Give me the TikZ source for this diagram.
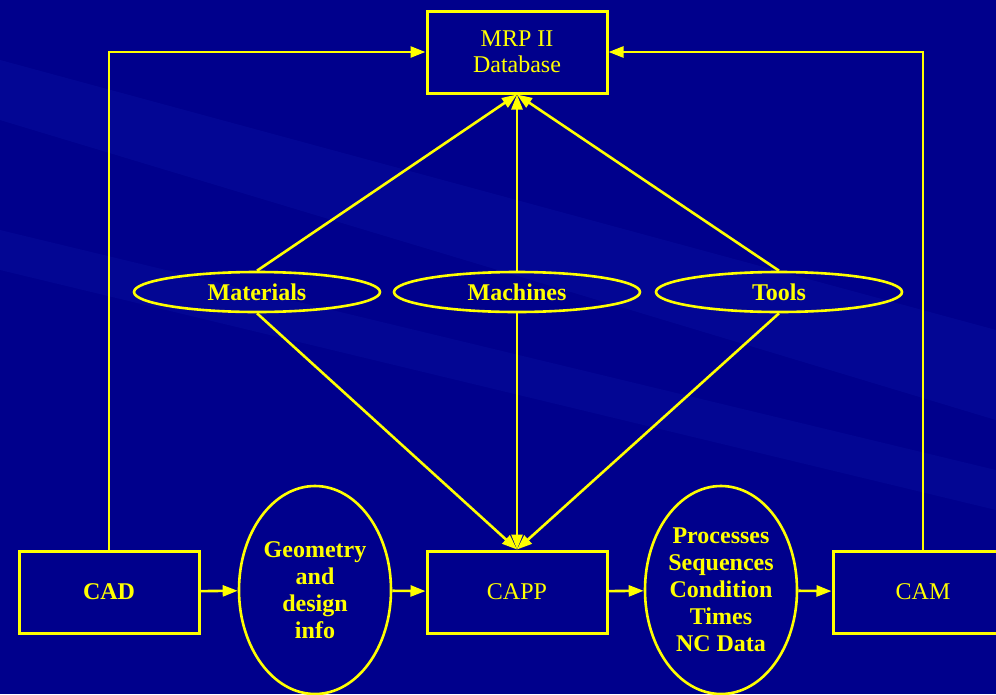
\documentclass[tikz,border=0pt]{standalone}
\usepackage{fontspec}
\setmainfont{Liberation Serif}
\usetikzlibrary{shapes.geometric,arrows.meta}
\definecolor{slideblue}{RGB}{0,0,140}
\definecolor{slidestreak}{RGB}{10,20,165}
\definecolor{lineyellow}{RGB}{255,255,0}

\tikzset{
  box/.style={draw=lineyellow, line width=3pt, minimum width=180pt, minimum height=82pt,
    text=lineyellow, font=\fontsize{24}{26}\selectfont, align=center},
  oval/.style={ellipse, draw=lineyellow, line width=2.6pt, inner sep=0pt,
    text=lineyellow, font=\fontsize{24}{27}\selectfont\bfseries, align=center},
  flow/.style={draw=lineyellow, line width=2.6pt, -{Triangle[length=15pt,width=11pt]}}
}

\begin{document}
\begin{tikzpicture}[x=1pt,y=-1pt]
  \useasboundingbox (0,0) rectangle (996,694);
  \fill[slideblue] (0,0) rectangle (996,694);
  % faint streaks of the slide background
  \fill[slidestreak, opacity=0.35] (0,60) -- (996,330) -- (996,420) -- (0,120) -- cycle;
  \fill[slidestreak, opacity=0.3] (0,230) -- (996,470) -- (996,510) -- (0,270) -- cycle;

  % boxes
  \node[box] (mrp) at (517,52) {MRP II\\Database};
  \node[box, font=\fontsize{24}{26}\selectfont\bfseries] (cad) at (109,592) {CAD};
  \node[box] (capp) at (517,592) {CAPP};
  \node[box] (cam) at (923,592) {CAM};

  % resources
  \node[oval, minimum width=246pt, minimum height=40pt] (mat) at (257,292) {Materials};
  \node[oval, minimum width=246pt, minimum height=40pt] (mach) at (517,292) {Machines};
  \node[oval, minimum width=246pt, minimum height=40pt] (tools) at (779,292) {Tools};

  % data between stages
  \node[oval, minimum width=152pt, minimum height=208pt] (geo) at (315,590)
    {Geometry\\and\\design\\info};
  \node[oval, minimum width=152pt, minimum height=208pt] (proc) at (721,590)
    {Processes\\Sequences\\Condition\\Times\\NC Data};

  % to the database
  \draw[flow] (cad.north) |- (mrp.west);
  \draw[flow] (cam.north) |- (mrp.east);
  \draw[flow] (mat.north) -- (mrp.south);
  \draw[flow] (mach.north) -- (mrp.south);
  \draw[flow] (tools.north) -- (mrp.south);

  % to process planning
  \draw[flow] (mat.south) -- (capp.north);
  \draw[flow] (mach.south) -- (capp.north);
  \draw[flow] (tools.south) -- (capp.north);

  % main chain
  \draw[flow] (cad) -- (geo);
  \draw[flow] (geo) -- (capp);
  \draw[flow] (capp) -- (proc);
  \draw[flow] (proc) -- (cam);
\end{tikzpicture}
\end{document}
